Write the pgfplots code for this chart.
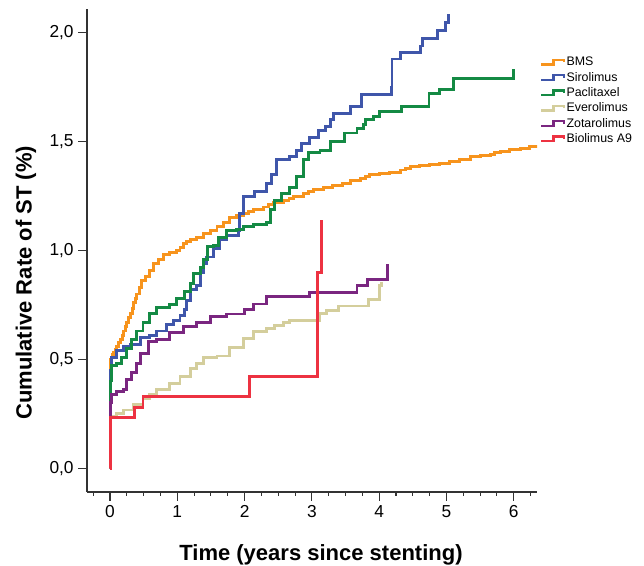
\documentclass[border=0pt]{standalone}
\usepackage{fontspec}
\setmainfont{Liberation Sans}
\usepackage{pgfplots}
\pgfplotsset{compat=1.18}

\definecolor{cbms}{RGB}{247,148,29}
\definecolor{csiro}{RGB}{63,86,170}
\definecolor{cpacl}{RGB}{20,138,68}
\definecolor{cevero}{RGB}{212,206,156}
\definecolor{czota}{RGB}{122,38,128}
\definecolor{cbio}{RGB}{237,50,65}

\begin{document}
\begin{tikzpicture}
\useasboundingbox (-65.25pt,-55.5pt) rectangle (417.75pt,369pt);
\begin{axis}[
  name=ax,
  scale only axis, width=337.5pt, height=362.25pt,
  xmin=-0.342, xmax=6.345, ymin=-0.110, ymax=2.110,
  axis lines*=left,
  axis line style={line width=0.8pt, black!80},
  xtick={0,...,6},
  minor xtick={-0.25,0.25,0.5,0.75,1.25,1.5,1.75,2.25,2.5,2.75,3.25,3.5,3.75,4.25,4.5,4.75,5.25,5.5,5.75,6.25},
  ytick={0,0.5,1,1.5,2},
  tick align=outside,
  major tick length=6.5pt, minor tick length=3pt,
  tick style={black!80, line width=0.8pt},
  /pgf/number format/assume math mode=true,
  yticklabel style={/pgf/number format/.cd, fixed, fixed zerofill, precision=1, use comma},
  tick label style={font=\fontsize{13}{15}\selectfont},
  xlabel={Time (years since stenting)},
  ylabel={Cumulative Rate of ST (\%)},
  label style={font=\bfseries\fontsize{16.5}{19}\selectfont},
  xlabel style={at={(axis description cs:0.52,0)}, anchor=base, yshift=-51.75pt},
  ylabel style={at={(axis description cs:-0.1356,0.433)}, anchor=center},
  legend image code/.code={\draw[#1, line width=1.6pt] (0pt,-1.5pt) -- (9pt,-1.5pt) -- (9pt,2pt) -- (17pt,2pt) -- (17pt,0pt);},
  legend style={draw=none, fill=none, at={(axis description cs:1.007,0.905)}, anchor=north west,
    font=\fontsize{9.3}{10}\selectfont, row sep=0.5pt, inner sep=0pt,
    nodes={inner sep=1pt, text height=7pt, text depth=2pt}},
  legend cell align=left,
  every axis plot/.append style={const plot, line width=2.2pt, no marks},
]
\addplot[cbms] coordinates {
(0,0) (0.01,0.50) (0.03,0.52) (0.05,0.53) (0.08,0.545) (0.10,0.56) (0.13,0.575) (0.15,0.59)
(0.18,0.61) (0.20,0.63) (0.23,0.65) (0.25,0.67) (0.28,0.69) (0.30,0.71) (0.33,0.735)
(0.35,0.76) (0.38,0.78) (0.40,0.80) (0.44,0.83) (0.47,0.86) (0.53,0.88) (0.59,0.91) (0.65,0.94)
(0.72,0.96) (0.79,0.98) (0.88,0.99) (0.99,1.00) (1.04,1.015) (1.09,1.03) (1.14,1.04) (1.19,1.05) (1.29,1.06)
(1.39,1.08) (1.49,1.09) (1.59,1.11) (1.69,1.13) (1.78,1.15) (1.88,1.16) (1.98,1.17)
(2.06,1.18) (2.13,1.19) (2.28,1.20) (2.36,1.21) (2.43,1.22) (2.58,1.23) (2.66,1.24) (2.73,1.25) (2.87,1.26) (2.95,1.27) (3.02,1.28)
(3.17,1.29) (3.30,1.30) (3.45,1.31) (3.57,1.32) (3.72,1.33) (3.79,1.34) (3.86,1.35) (4.01,1.355)
(4.16,1.36) (4.31,1.37) (4.39,1.378) (4.46,1.385) (4.60,1.39) (4.75,1.395) (4.90,1.40) (5.05,1.41)
(5.20,1.42) (5.35,1.43) (5.50,1.435) (5.65,1.44) (5.72,1.45) (5.80,1.455) (5.94,1.465)
(6.10,1.47) (6.24,1.48) (6.34,1.485)};
\addlegendentry{BMS}
\addplot[csiro] coordinates {
(0,0) (0.005,0.45) (0.02,0.51) (0.10,0.54) (0.20,0.56) (0.30,0.57) (0.45,0.60)
(0.59,0.61) (0.69,0.63) (0.84,0.66) (0.94,0.68) (1.04,0.70) (1.11,0.73) (1.14,0.77)
(1.19,0.82) (1.29,0.84) (1.34,0.90) (1.39,0.94) (1.44,0.97) (1.54,1.01) (1.63,1.05)
(1.73,1.07) (1.91,1.09) (1.93,1.17) (1.98,1.25) (2.15,1.27) (2.33,1.31) (2.40,1.35)
(2.48,1.42) (2.67,1.43) (2.77,1.46) (2.85,1.49) (2.97,1.52) (3.10,1.55) (3.20,1.57)
(3.27,1.60) (3.32,1.63) (3.57,1.66) (3.74,1.715) (4.18,1.75) (4.19,1.88) (4.31,1.91)
(4.61,1.94) (4.65,1.975) (4.87,2.01) (4.99,2.047) (5.03,2.087)};
\addlegendentry{Sirolimus}
\addplot[cpacl] coordinates {
(0,0) (0.005,0.40) (0.02,0.47) (0.10,0.48) (0.17,0.51) (0.25,0.55) (0.32,0.59)
(0.40,0.63) (0.49,0.67) (0.59,0.71) (0.69,0.74) (0.89,0.75) (0.99,0.78) (1.11,0.81)
(1.19,0.85) (1.24,0.895) (1.34,0.92) (1.39,0.96) (1.45,1.02) (1.54,1.025) (1.61,1.06)
(1.73,1.09) (1.88,1.095) (1.98,1.11) (2.13,1.12) (2.33,1.13) (2.38,1.19) (2.45,1.23)
(2.55,1.26) (2.67,1.29) (2.77,1.34) (2.87,1.42) (2.95,1.45) (3.12,1.46) (3.27,1.50)
(3.49,1.54) (3.67,1.56) (3.76,1.58) (3.80,1.60) (3.91,1.615) (4.00,1.64) (4.33,1.66)
(4.74,1.72) (4.90,1.74) (5.11,1.79) (6.00,1.833)};
\addlegendentry{Paclitaxel}
\addplot[cevero] coordinates {
(0,0) (0.005,0.20) (0.01,0.236) (0.10,0.25) (0.20,0.267) (0.35,0.294) (0.49,0.32)
(0.59,0.34) (0.69,0.362) (0.89,0.389) (1.04,0.42) (1.19,0.458) (1.29,0.48) (1.39,0.509)
(1.59,0.515) (1.78,0.555) (1.98,0.596) (2.13,0.627) (2.33,0.642) (2.45,0.655)
(2.58,0.668) (2.67,0.68) (3.12,0.711) (3.22,0.726) (3.39,0.745) (3.84,0.776)
(4.01,0.841) (4.04,0.857)};
\addlegendentry{Everolimus}
\addplot[czota] coordinates {
(0,0) (0.005,0.30) (0.02,0.336) (0.10,0.351) (0.20,0.36) (0.24,0.405) (0.32,0.44)
(0.40,0.48) (0.45,0.527) (0.57,0.58) (0.69,0.59) (0.89,0.622) (1.09,0.65) (1.29,0.668)
(1.49,0.696) (1.73,0.708) (2.00,0.73) (2.13,0.754) (2.32,0.788) (2.97,0.806)
(3.67,0.837) (3.82,0.867) (4.12,0.938)};
\addlegendentry{Zotarolimus}
\addplot[cbio] coordinates {
(0,0) (0.01,0.231) (0.36,0.277) (0.49,0.328) (2.07,0.42) (3.09,0.898) (3.14,1.14)};
\addlegendentry{Biolimus A9}
\end{axis}
\end{tikzpicture}
\end{document}
